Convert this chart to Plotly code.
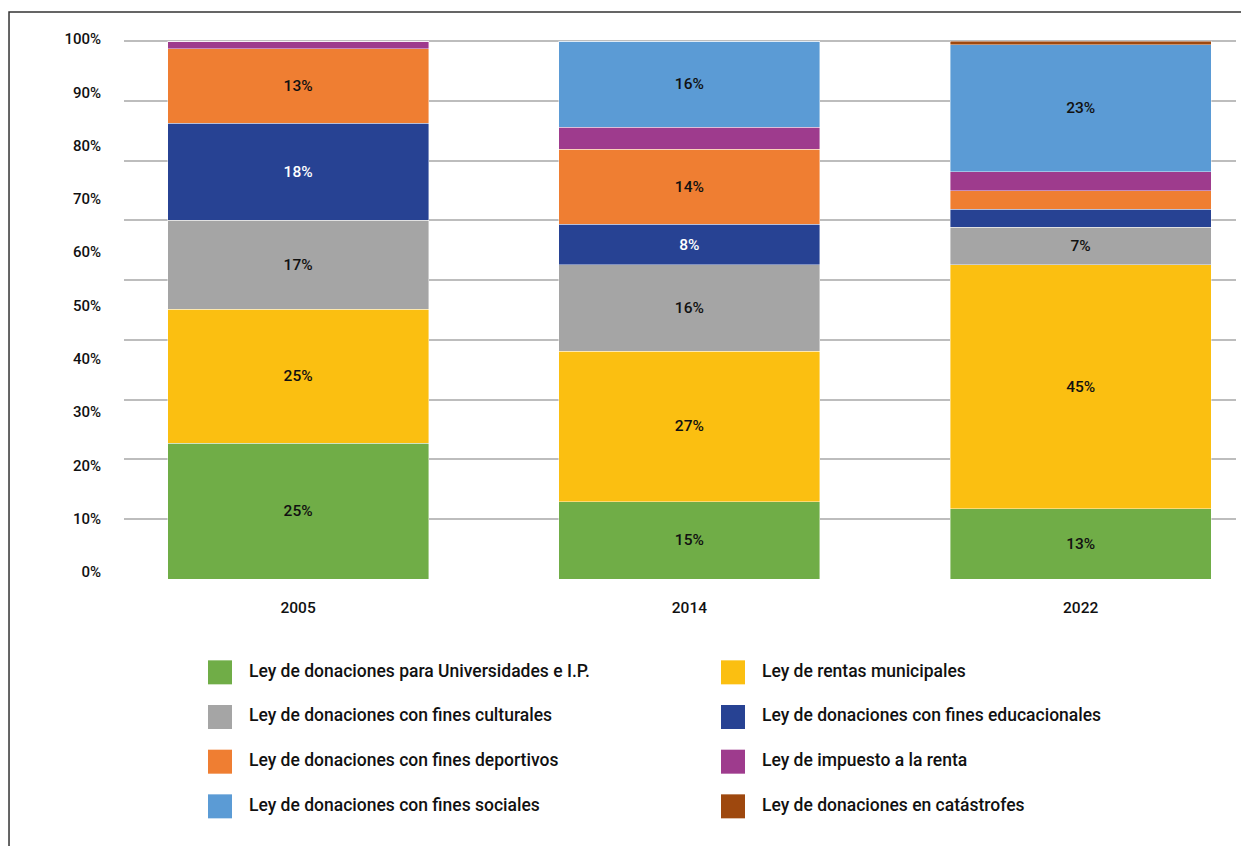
import plotly.graph_objects as go

# ---------------- data ----------------
years = ["2005", "2014", "2022"]

series_names = [
    "Ley de donaciones para Universidades e I.P.",
    "Ley de rentas municipales",
    "Ley de donaciones con fines culturales",
    "Ley de donaciones con fines educacionales",
    "Ley de donaciones con fines deportivos",
    "Ley de impuesto a la renta",
    "Ley de donaciones con fines sociales",
    "Ley de donaciones en catástrofes",
]
series_colors = ["#70AD47", "#FBBF11", "#A5A5A5", "#274293",
                 "#EF7E32", "#9E3B8D", "#5B9BD5", "#9E480E"]

universidades = [25.2, 14.4, 13.1]
rentas_municipales = [24.9, 27.9, 45.3]
culturales = [16.6, 16.1, 7.0]
educacionales = [18.0, 7.5, 3.3]
deportivos = [13.9, 14.0, 3.5]
impuesto_renta = [1.4, 4.1, 3.5]
sociales = [0.0, 16.0, 23.6]
catastrofes = [0.0, 0.0, 0.7]

lbl_universidades = ["25%", "15%", "13%"]
lbl_rentas_municipales = ["25%", "27%", "45%"]
lbl_culturales = ["17%", "16%", "7%"]
lbl_educacionales = ["18%", "8%", ""]
lbl_deportivos = ["13%", "14%", ""]
lbl_impuesto_renta = ["", "", ""]
lbl_sociales = ["", "16%", "23%"]
lbl_catastrofes = ["", "", ""]

y_tick_text = ["0%", "10%", "20%", "30%", "40%", "50%",
               "60%", "70%", "80%", "90%", "100%"]

series_values = [universidades, rentas_municipales, culturales, educacionales,
                 deportivos, impuesto_renta, sociales, catastrofes]
series_labels = [lbl_universidades, lbl_rentas_municipales, lbl_culturales,
                 lbl_educacionales, lbl_deportivos, lbl_impuesto_renta,
                 lbl_sociales, lbl_catastrofes]

# ---------------- style ----------------
FONT = "Roboto"
TXT = "#111111"
GRID = "#BDBDBD"

fig = go.Figure()

for name, vals, lbls, col in zip(series_names, series_values, series_labels, series_colors):
    fig.add_trace(go.Bar(
        x=years, y=vals, name=name, text=lbls,
        textposition="inside", insidetextanchor="middle", textangle=0,
        insidetextfont=dict(family=FONT, size=15.5, weight=500,
                            color="#FFFFFF" if col == "#274293" else TXT),
        marker=dict(color=col, line=dict(width=0.7, color="rgba(255,255,255,0.6)")),
        showlegend=False, hoverinfo="skip",
    ))

# helper trace so that the gridline axis exists
fig.add_trace(go.Scatter(x=[], y=[], xaxis="x", yaxis="y2", showlegend=False,
                         hoverinfo="skip"))

# custom legend (two columns, row-major order)
leg_x = [i % 2 for i in range(len(series_names))]
leg_y = [i // 2 for i in range(len(series_names))]
fig.add_trace(go.Scatter(
    x=leg_x, y=leg_y, mode="markers", xaxis="x2", yaxis="y3",
    marker=dict(symbol="square", size=24, color=series_colors, line=dict(width=0)),
    showlegend=False, hoverinfo="skip",
))
fig.add_trace(go.Scatter(
    x=[v + 0.0565 for v in leg_x], y=leg_y, mode="text", text=series_names,
    textposition="middle right", xaxis="x2", yaxis="y3",
    textfont=dict(family=FONT, size=17.5, weight=500, color=TXT),
    showlegend=False, hoverinfo="skip",
))

y_top = 100.743
y_tick_pos = [1.30 + 9.907 * i for i in range(len(y_tick_text))]

fig.update_layout(
    width=1249, height=846, autosize=False,
    margin=dict(l=116, r=21, t=29, b=28),
    paper_bgcolor="white", plot_bgcolor="white",
    barmode="stack", bargap=0.333,
    font=dict(family=FONT, size=15, color=TXT),
    hovermode=False,
    xaxis=dict(type="category", range=[-0.445, 2.397], showgrid=False,
               showline=False, zeroline=False, ticks="",
               tickfont=dict(family=FONT, size=15.5, weight=500, color=TXT),
               ticklabelstandoff=17, anchor="y"),
    yaxis=dict(domain=[0.31305, 1.0], range=[0, y_top], showgrid=False,
               zeroline=False, showline=False, ticks="",
               tickvals=y_tick_pos, ticktext=y_tick_text,
               tickfont=dict(family=FONT, size=15, weight=500, color=TXT),
               ticklabelstandoff=22, anchor="x"),
    yaxis2=dict(overlaying="y", side="left", range=[0, 9 * y_top / 100],
                dtick=1, tick0=0, showgrid=True, gridcolor=GRID, gridwidth=1.6,
                showticklabels=False, zeroline=False, showline=False, ticks=""),
    xaxis2=dict(domain=[0, 1], range=[-0.1871, 1.9805], visible=False,
                anchor="y3"),
    yaxis3=dict(domain=[0, 0.23574], range=[3.440, -0.724], visible=False,
                anchor="x2"),
    shapes=[dict(type="rect", xref="paper", yref="paper",
                 x0=-0.1034, x1=1.03, y0=-0.1, y1=1.0317,
                 line=dict(color="#333333", width=1.5), fillcolor="rgba(0,0,0,0)",
                 layer="above")],
)

fig.write_html("out.html")
